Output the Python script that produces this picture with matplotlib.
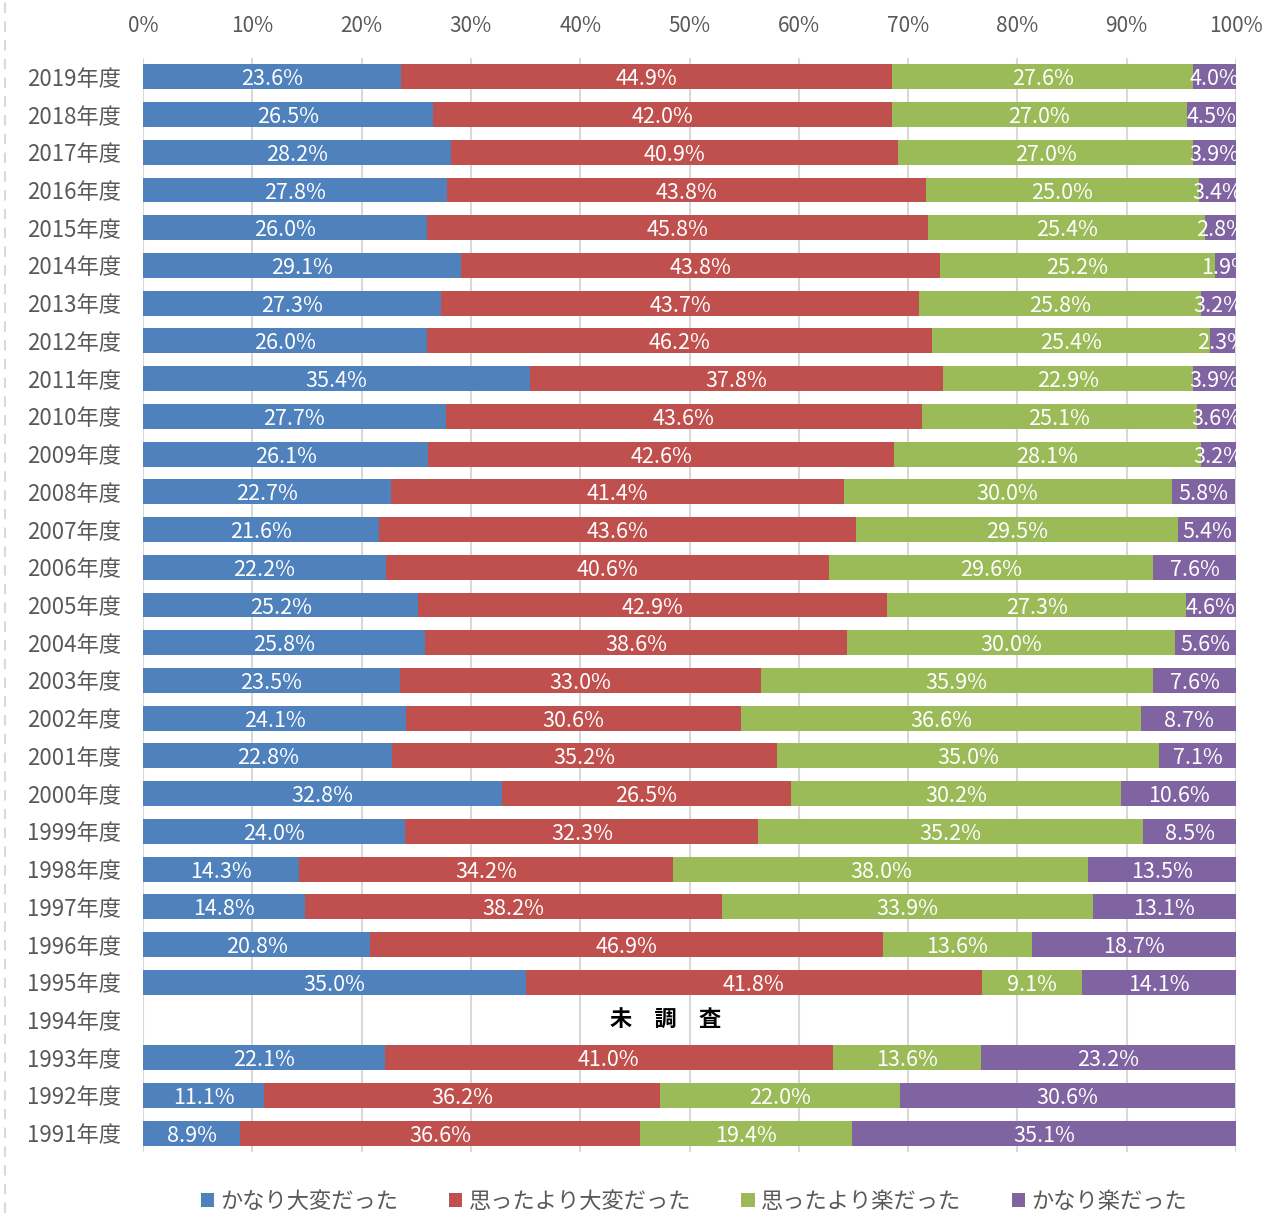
import matplotlib
matplotlib.use("Agg")
import matplotlib.pyplot as plt
from matplotlib.lines import Line2D
from matplotlib.patches import Patch
import numpy as np

plt.rcParams['font.family'] = ['Noto Sans CJK JP', 'DejaVu Sans']

# Survey years (fiscal), newest first; 1994 was not surveyed
years = ["2019年度", "2018年度", "2017年度", "2016年度", "2015年度", "2014年度",
         "2013年度", "2012年度", "2011年度", "2010年度", "2009年度", "2008年度",
         "2007年度", "2006年度", "2005年度", "2004年度", "2003年度", "2002年度",
         "2001年度", "2000年度", "1999年度", "1998年度", "1997年度", "1996年度",
         "1995年度", "1994年度", "1993年度", "1992年度", "1991年度"]

nan = np.nan
very_hard = [23.6, 26.5, 28.2, 27.8, 26.0, 29.1, 27.3, 26.0, 35.4, 27.7, 26.1, 22.7,
             21.6, 22.2, 25.2, 25.8, 23.5, 24.1, 22.8, 32.8, 24.0, 14.3, 14.8, 20.8,
             35.0, nan, 22.1, 11.1, 8.9]
harder_than_expected = [44.9, 42.0, 40.9, 43.8, 45.8, 43.8, 43.7, 46.2, 37.8, 43.6, 42.6, 41.4,
                        43.6, 40.6, 42.9, 38.6, 33.0, 30.6, 35.2, 26.5, 32.3, 34.2, 38.2, 46.9,
                        41.8, nan, 41.0, 36.2, 36.6]
easier_than_expected = [27.6, 27.0, 27.0, 25.0, 25.4, 25.2, 25.8, 25.4, 22.9, 25.1, 28.1, 30.0,
                        29.5, 29.6, 27.3, 30.0, 35.9, 36.6, 35.0, 30.2, 35.2, 38.0, 33.9, 13.6,
                        9.1, nan, 13.6, 22.0, 19.4]
very_easy = [4.0, 4.5, 3.9, 3.4, 2.8, 1.9, 3.2, 2.3, 3.9, 3.6, 3.2, 5.8,
             5.4, 7.6, 4.6, 5.6, 7.6, 8.7, 7.1, 10.6, 8.5, 13.5, 13.1, 18.7,
             14.1, nan, 23.2, 30.6, 35.1]

series_names = ["かなり大変だった", "思ったより大変だった", "思ったより楽だった", "かなり楽だった"]
series_values = [very_hard, harder_than_expected, easier_than_expected, very_easy]
colors = ["#4F81BD", "#C0504D", "#9BBB59", "#8064A2"]

missing_year = "1994年度"
missing_text = "未　調　査"

fig = plt.figure(figsize=(12.72, 12.13), dpi=100)
ax = fig.add_axes([143 / 1272, 1 - 1152 / 1213, (1236 - 143) / 1272, (1152 - 58) / 1213])

y = np.arange(len(years))
left = np.zeros(len(years))
for name, vals, col in zip(series_names, series_values, colors):
    v = np.array(vals, dtype=float)
    w = np.nan_to_num(v)
    bars = ax.barh(y, w, left=left, height=0.66, color=col, label=name, zorder=2)
    labels = ["" if np.isnan(x) else f"{x:.1f}%" for x in v]
    texts = ax.bar_label(bars, labels=labels, label_type="center", color="white",
                         fontsize=15.5, zorder=3)
    for t in texts:
        t.set_va("center_baseline")
    left = left + w

# Row without survey data
ax.text(47.8, years.index(missing_year), missing_text, ha="center", va="center",
        fontsize=16, fontweight="bold", color="black", zorder=3)

ax.set_xlim(0, 100)
ax.set_ylim(len(years) - 0.5, -0.5)
ax.set_yticks(y)
ax.set_yticklabels(years)
ax.set_xticks(np.arange(0, 101, 10))
ax.set_xticklabels([f"{t}%" for t in range(0, 101, 10)])
ax.xaxis.tick_top()
ax.tick_params(axis="x", length=0, pad=15, labelsize=15, colors="#595959")
ax.tick_params(axis="y", length=0, pad=16, labelsize=16, colors="#595959")
for s in ax.spines.values():
    s.set_visible(False)
ax.grid(axis="x", color="#D9D9D9", linewidth=1.5, zorder=0)
ax.set_axisbelow(True)

handles = [Patch(facecolor=c, edgecolor="none") for c in colors]
fig.legend(handles, series_names, loc="center", bbox_to_anchor=(0.5456, 1 - 1201 / 1213),
           ncol=4, frameon=False, fontsize=16, handlelength=0.6, handleheight=0.6,
           handletextpad=0.3, columnspacing=2.25, labelcolor="#595959")

# Dashed border at the left edge
fig.add_artist(Line2D([5 / 1272, 5 / 1272], [0, 1], transform=fig.transFigure,
                      color="#D9D9D9", linestyle=(0, (5, 4)), linewidth=1.5))

fig.savefig("out.png", dpi=100)
